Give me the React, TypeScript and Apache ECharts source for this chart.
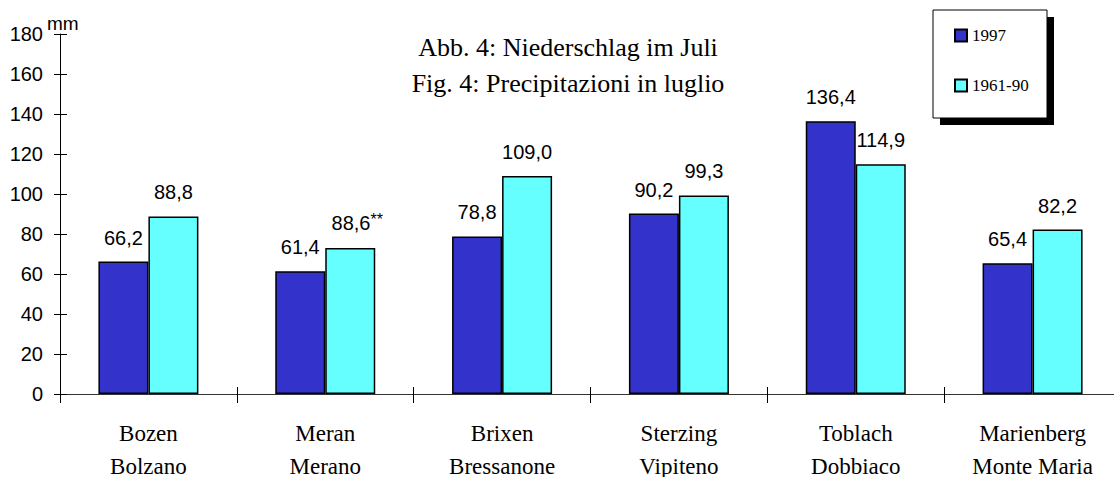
import React, { useEffect, useRef } from 'react';
import * as echarts from 'echarts';

const namesDe = ['Bozen', 'Meran', 'Brixen', 'Sterzing', 'Toblach', 'Marienberg'];
const namesIt = ['Bolzano', 'Merano', 'Bressanone', 'Vipiteno', 'Dobbiaco', 'Monte Maria'];
const seriesNames = ['1997', '1961-90'];
const values1997 = [66.2, 61.4, 78.8, 90.2, 136.4, 65.4];
const values6190 = [88.8, 73.0, 109.0, 99.3, 114.9, 82.2];
const labels1997 = ['66,2', '61,4', '78,8', '90,2', '136,4', '65,4'];
const labels6190 = ['88,8', '88,6**', '109,0', '99,3', '114,9', '82,2'];
const yMin = 0;
const yMax = 180;
const yInterval = 20;
const titleLines = ['Abb. 4: Niederschlag im Juli', 'Fig. 4: Precipitazioni in luglio'];
const unitLabel = 'mm';

const SERIF = '"Liberation Serif", "Times New Roman", serif';
const SANS = '"Liberation Sans", Arial, sans-serif';

function richLabel(text: string) {
  const i = text.indexOf('*');
  return i < 0 ? `{v|${text}}` : `{v|${text.slice(0, i)}}{s|${text.slice(i)}}`;
}

function buildData(values: number[], labels: string[]) {
  return values.map((v, i) => ({
    value: v,
    label: labels[i].includes('*') ? { offset: [7, 0] } : undefined,
  }));
}

const labelRich = {
  v: { fontFamily: SANS, fontSize: 20, color: '#000' },
  s: { fontFamily: SANS, fontSize: 16, color: '#000', padding: [0, 0, 7, 0] },
};

export default function App() {
  const ref = useRef<HTMLDivElement>(null);
  useEffect(() => {
    if (!ref.current) return;
    const chart = echarts.init(ref.current, null, { renderer: 'svg' });
    const mkLabel = (labels: string[]) => ({
      show: true,
      position: 'top',
      distance: 14,
      formatter: (p: any) => richLabel(labels[p.dataIndex]),
      rich: labelRich,
    });
    chart.setOption({
      animation: false,
      backgroundColor: '#fff',
      grid: { left: 60, top: 34, bottom: 83, right: -7, containLabel: false, outerBoundsMode: 'none' },
      legend: {
        orient: 'vertical',
        left: 954,
        top: 27,
        padding: 0,
        itemWidth: 12,
        itemHeight: 12,
        itemGap: 33,
        icon: 'rect',
        z: 10,
        textStyle: { fontFamily: SERIF, fontSize: 17, color: '#000' },
        data: seriesNames,
      },
      graphic: [
        { type: 'rect', z: 1, shape: { x: 940, y: 17, width: 114, height: 108 }, style: { fill: '#000' } },
        { type: 'rect', z: 2, shape: { x: 933, y: 10, width: 114, height: 108 }, style: { fill: '#fff', stroke: '#000', lineWidth: 1 } },
        {
          type: 'text', z: 3, x: 568, y: 47,
          style: { text: titleLines[0], fontFamily: SERIF, fontSize: 26, fill: '#000', textAlign: 'center', textVerticalAlign: 'middle' },
        },
        {
          type: 'text', z: 3, x: 568, y: 83,
          style: { text: titleLines[1], fontFamily: SERIF, fontSize: 26, fill: '#000', textAlign: 'center', textVerticalAlign: 'middle' },
        },
        {
          type: 'text', z: 3, x: 47, y: 23,
          style: { text: unitLabel, fontFamily: SANS, fontSize: 19, fill: '#000', textAlign: 'left', textVerticalAlign: 'middle' },
        },
      ],
      xAxis: [
        {
          type: 'category',
          data: namesDe,
          axisLine: { show: true, lineStyle: { color: '#333', width: 1 } },
          axisTick: { show: true, length: 9, lineStyle: { color: '#000' } },
          axisLabel: { fontFamily: SERIF, fontSize: 23, color: '#000', lineHeight: 24, margin: 27, interval: 0 },
          splitLine: { show: false },
        },
        {
          type: 'category',
          data: namesIt,
          position: 'bottom',
          axisLine: { show: false },
          axisTick: { show: true, inside: true, length: 7, lineStyle: { color: '#000' } },
          axisLabel: { fontFamily: SERIF, fontSize: 23, color: '#000', lineHeight: 20, margin: 62, interval: 0 },
          splitLine: { show: false },
        },
      ],
      yAxis: [
        {
          type: 'value',
          position: 'left',
          min: yMin,
          max: yMax,
          interval: yInterval,
          axisLine: { show: true, lineStyle: { color: '#000', width: 1 } },
          axisTick: { show: true, length: 6, lineStyle: { color: '#000' } },
          axisLabel: { fontFamily: SANS, fontSize: 20, color: '#000', margin: 17 },
          splitLine: { show: false },
        },
        {
          type: 'value',
          position: 'left',
          min: yMin,
          max: yMax,
          interval: yInterval,
          axisLine: { show: false },
          axisTick: { show: true, inside: true, length: 7, lineStyle: { color: '#000' } },
          axisLabel: { show: false },
          splitLine: { show: false },
        },
      ],
      series: [
        {
          name: seriesNames[0],
          type: 'bar',
          xAxisIndex: 0,
          yAxisIndex: 0,
          barWidth: 50,
          barGap: '0%',
          data: buildData(values1997, labels1997),
          itemStyle: { color: '#3333CC', borderColor: '#000', borderWidth: 1.5 },
          label: mkLabel(labels1997),
        },
        {
          name: seriesNames[1],
          type: 'bar',
          xAxisIndex: 0,
          yAxisIndex: 0,
          barWidth: 50,
          barGap: '0%',
          data: buildData(values6190, labels6190),
          itemStyle: { color: '#66FFFF', borderColor: '#000', borderWidth: 1.5 },
          label: mkLabel(labels6190),
        },
      ],
    });
    return () => chart.dispose();
  }, []);
  return <div ref={ref} style={{ position: 'absolute', left: 0, top: 0, width: 1114, height: 477 }} />;
}
